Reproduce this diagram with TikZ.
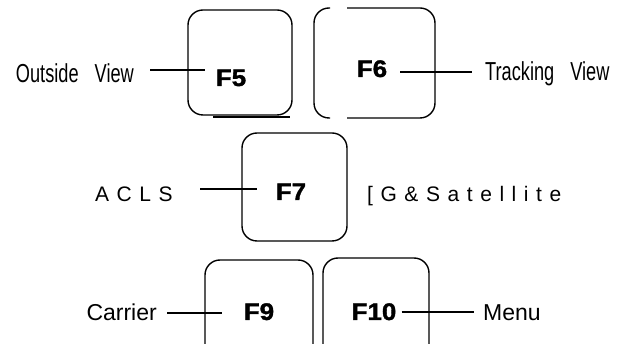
\documentclass[tikz,border=0pt]{standalone}
\usepackage{fontspec}
\setmainfont{Liberation Sans}
\newfontfamily\keyfont[FakeStretch=1.08,FakeBold=1.5]{Liberation Sans Bold}
\newfontfamily\narrowfont[FakeStretch=0.7]{Liberation Sans}
\newfontfamily\spacedfont[LetterSpace=36]{Liberation Sans}
\begin{document}
\begin{tikzpicture}[x=1pt,y=-1pt,
  keybox/.style={line width=1.4pt, rounded corners=15pt},
  lead/.style={line width=1.8pt},
  keylabel/.style={inner sep=0pt, anchor=base, font=\keyfont\fontsize{24}{28}\selectfont},
  narrowlabel/.style={inner sep=0pt, font=\narrowfont\fontsize{26}{30}\selectfont},
  plainlabel/.style={inner sep=0pt, font=\fontsize{23}{27}\selectfont},
  spacedlabel/.style={inner sep=0pt, font=\spacedfont\fontsize{21}{25}\selectfont}]
\useasboundingbox (0,0) rectangle (622,344);
% key outlines
\draw[keybox] (188,10) rectangle (292,115);
\draw[line width=2pt] (213,117) -- (290,117);
\draw[keybox] (330,8) -- (314,8) -- (314,118) -- (330,118);
\draw[keybox] (347,8) -- (435,8) -- (435,118) -- (347,118);
\draw[keybox] (242,133) rectangle (347,241);
\draw[keybox] (205,346) -- (205,260) -- (313,260) -- (313,346);
\draw[keybox] (323,346) -- (323,258) -- (429,258) -- (429,346);
% key labels
\node[keylabel] (f5) at (231,86) {F5};
\node[keylabel] (f6) at (372,77) {F6};
\node[keylabel] (f7) at (291,200) {F7};
\node[keylabel] (f9) at (259,320) {F9};
\node[keylabel] (f10) at (374,320) {F10};
% function labels
\node[narrowlabel, anchor=base east] (outside) at (134,83) {Outside\hspace{16pt}View};
\node[narrowlabel, anchor=base west] (tracking) at (485,81) {Tracking\hspace{16pt}View};
\node[spacedlabel, anchor=base west] (acls) at (95,202) {ACLS};
\node[spacedlabel, anchor=base west] (sat) at (367,202) {[G\&Satellite};
\node[plainlabel, anchor=base east] (carrier) at (157,321) {Carrier};
\node[plainlabel, anchor=base west] (menu) at (483,321) {Menu};
% leader lines
\draw[lead, shorten <=16pt, shorten >=11pt] (outside.east |- 0,70) -- (f5.west |- 0,70);
\draw[lead, shorten <=13pt, shorten >=13pt] (f6.east |- 0,72) -- (tracking.west |- 0,72);
\draw[lead] (f7.west |- 0,189) ++(-19,0) -- ++(-57,0);
\draw[lead, shorten <=10pt, shorten >=22pt] (carrier.east |- 0,313) -- (f9.west |- 0,313);
\draw[lead, shorten <=5pt, shorten >=9pt] (f10.east |- 0,312) -- (menu.west |- 0,312);
\end{tikzpicture}
\end{document}
